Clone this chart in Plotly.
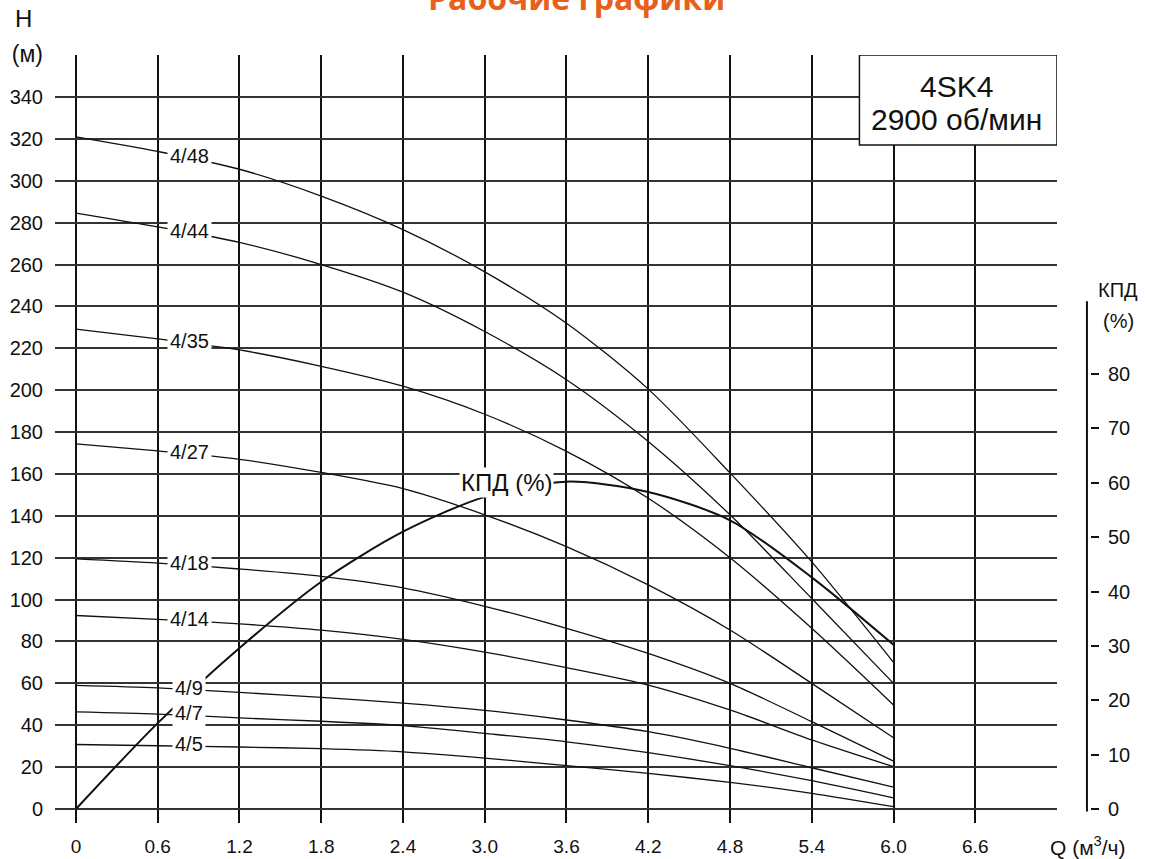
import numpy as np
import plotly.graph_objects as go

# ---------------- data ----------------
Q = [0, 0.6, 1.2, 1.8, 2.4, 3.0, 3.6, 4.2, 4.8, 5.4, 6.0]

h_4_48 = [321, 314, 305.5, 292.7, 276.7, 256.5, 232, 200.5, 160.5, 118, 70]
h_4_44 = [284.6, 278, 270.6, 260, 246.8, 228, 205, 175.5, 140.5, 100.5, 60]
h_4_35 = [229.2, 224.5, 219.2, 211.4, 201.9, 188.5, 170.8, 148.4, 120, 86.3, 49.7]
h_4_27 = [174.4, 171, 167, 160.7, 153, 140.5, 125.3, 107, 85.5, 60, 34]
h_4_18 = [119.4, 117.4, 114.6, 111.1, 105.6, 96.8, 86.3, 74.3, 60, 41.7, 22.9]
h_4_14 = [92.4, 90.6, 88.4, 85.4, 81, 74.9, 67.5, 59.2, 47.3, 33, 20.2]
h_4_9 = [59, 57.8, 55.7, 53.3, 50.6, 47.1, 42.5, 36.9, 29, 19.7, 10.4]
h_4_7 = [46.4, 45.3, 43.5, 41.9, 39.8, 36.1, 32.1, 26.9, 20.7, 13.5, 5.3]
h_4_5 = [30.8, 30.2, 29.6, 28.8, 27.3, 24.3, 20.7, 17, 12.7, 7.5, 1.1]

kpd = [0, 15.8, 29.6, 41.8, 51, 57.4, 60.2, 58.3, 53.1, 42.6, 30.2]

curve_names = ["4/48", "4/44", "4/35", "4/27", "4/18", "4/14", "4/9", "4/7", "4/5"]
curve_values = [h_4_48, h_4_44, h_4_35, h_4_27, h_4_18, h_4_14, h_4_9, h_4_7, h_4_5]

x_ticks = [0, 0.6, 1.2, 1.8, 2.4, 3.0, 3.6, 4.2, 4.8, 5.4, 6.0, 6.6, 7.2]
x_ticktext = ["0", "0.6", "1.2", "1.8", "2.4", "3.0", "3.6", "4.2", "4.8", "5.4", "6.0", "6.6", " "]
y_ticks = list(range(0, 361, 20))
y_ticktext = [str(v) for v in range(0, 341, 20)] + ["<span style='font-size:23px'>(м)</span>"]
y2_ticks = [0, 10, 20, 30, 40, 50, 60, 70, 80]

# ---------------- figure ----------------
FONT = "Liberation Sans, Arial, sans-serif"
INK = "#111111"
fig = go.Figure()

for name, vals in zip(curve_names, curve_values):
    fig.add_trace(go.Scatter(
        x=Q, y=vals, mode="lines", name=name,
        line=dict(color=INK, width=1.3, shape="spline", smoothing=0.8),
        showlegend=False, hoverinfo="skip"))

fig.add_trace(go.Scatter(
    x=Q, y=kpd, mode="lines", name="КПД (%)", yaxis="y2",
    line=dict(color=INK, width=2, shape="spline", smoothing=0.8),
    showlegend=False, hoverinfo="skip"))

annotations = []
label_x = 0.83
for name, vals in zip(curve_names, curve_values):
    annotations.append(dict(
        x=label_x, y=float(np.interp(label_x, Q, vals)) + 1, xref="x", yref="y",
        xanchor="center", yanchor="middle",
        text=name, showarrow=False, bgcolor="white", borderpad=2,
        font=dict(family=FONT, size=20, color=INK)))

annotations.append(dict(
    x=3.16, y=60.1, xref="x", yref="y2", text="КПД (%)", showarrow=False,
    xanchor="center", yanchor="middle",
    bgcolor="white", borderpad=1, font=dict(family=FONT, size=24, color=INK)))


def paper_note(text, px, py, size, family=FONT, color=INK):
    # px, py: pixel position of the text centre in the 1149x859 page
    return dict(x=(px - 55) / 1002, y=(823 - py) / 768, xref="paper", yref="paper",
                xanchor="center", yanchor="middle", text=text, showarrow=False,
                font=dict(family=family, size=size, color=color))


annotations += [
    dict(x=6.463, y=344.9, xref="x", yref="y", text="4SK4", showarrow=False,
         xanchor="center", yanchor="middle",
         font=dict(family=FONT, size=30, color=INK)),
    dict(x=6.463, y=329.5, xref="x", yref="y", text="2900 об/мин", showarrow=False,
         xanchor="center", yanchor="middle",
         font=dict(family=FONT, size=30, color=INK)),
    paper_note("H", 23, 18, 24),
    paper_note("КПД", 1118, 290, 20),
    paper_note("(%)", 1118, 321, 20),
    paper_note("Q (м<sup>3</sup>/ч)", 1088, 846, 21),
    paper_note("<b>Рабочие графики</b>", 576, -3, 32, family="Open Sans, sans-serif",
               color="#E8601C"),
]

shapes = [
    dict(type="rect", xref="x", yref="y", x0=5.75, x1=7.2, y0=317.1, y1=360.06,
         fillcolor="white", line=dict(color=INK, width=1.5), layer="above"),
    dict(type="line", xref="paper", yref="y2", x0=1.0299, x1=1.0299, y0=-0.45, y1=93.4,
         line=dict(color=INK, width=2), layer="above"),
]

fig.update_layout(
    width=1149, height=859,
    margin=dict(l=55, r=92, t=55, b=36, autoexpand=False),
    paper_bgcolor="white", plot_bgcolor="white",
    showlegend=False,
    xaxis=dict(range=[-0.154, 7.2], tickvals=x_ticks, ticktext=x_ticktext,
               showgrid=True, gridcolor=INK, gridwidth=2, zeroline=False,
               showline=False, ticks="", ticklabelstandoff=10, automargin=False,
               tickfont=dict(family=FONT, size=19, color=INK)),
    yaxis=dict(range=[-6.685, 360.06], tickvals=y_ticks, ticktext=y_ticktext,
               showgrid=True, gridcolor="#333333", gridwidth=1.6, zeroline=False,
               showline=False, ticks="", ticklabelstandoff=11, automargin=False,
               tickfont=dict(family=FONT, size=20, color=INK)),
    yaxis2=dict(range=[-2.575, 138.67], overlaying="y", side="right", anchor="free",
                position=1, shift=33, autoshift=False, tickvals=y2_ticks, automargin=False,
                ticks="outside", ticklen=8, tickwidth=2, tickcolor=INK,
                showgrid=False, zeroline=False, showline=False, ticklabelstandoff=5,
                tickfont=dict(family=FONT, size=20, color=INK)),
    annotations=annotations,
    shapes=shapes,
)

fig.write_html("out.html")
